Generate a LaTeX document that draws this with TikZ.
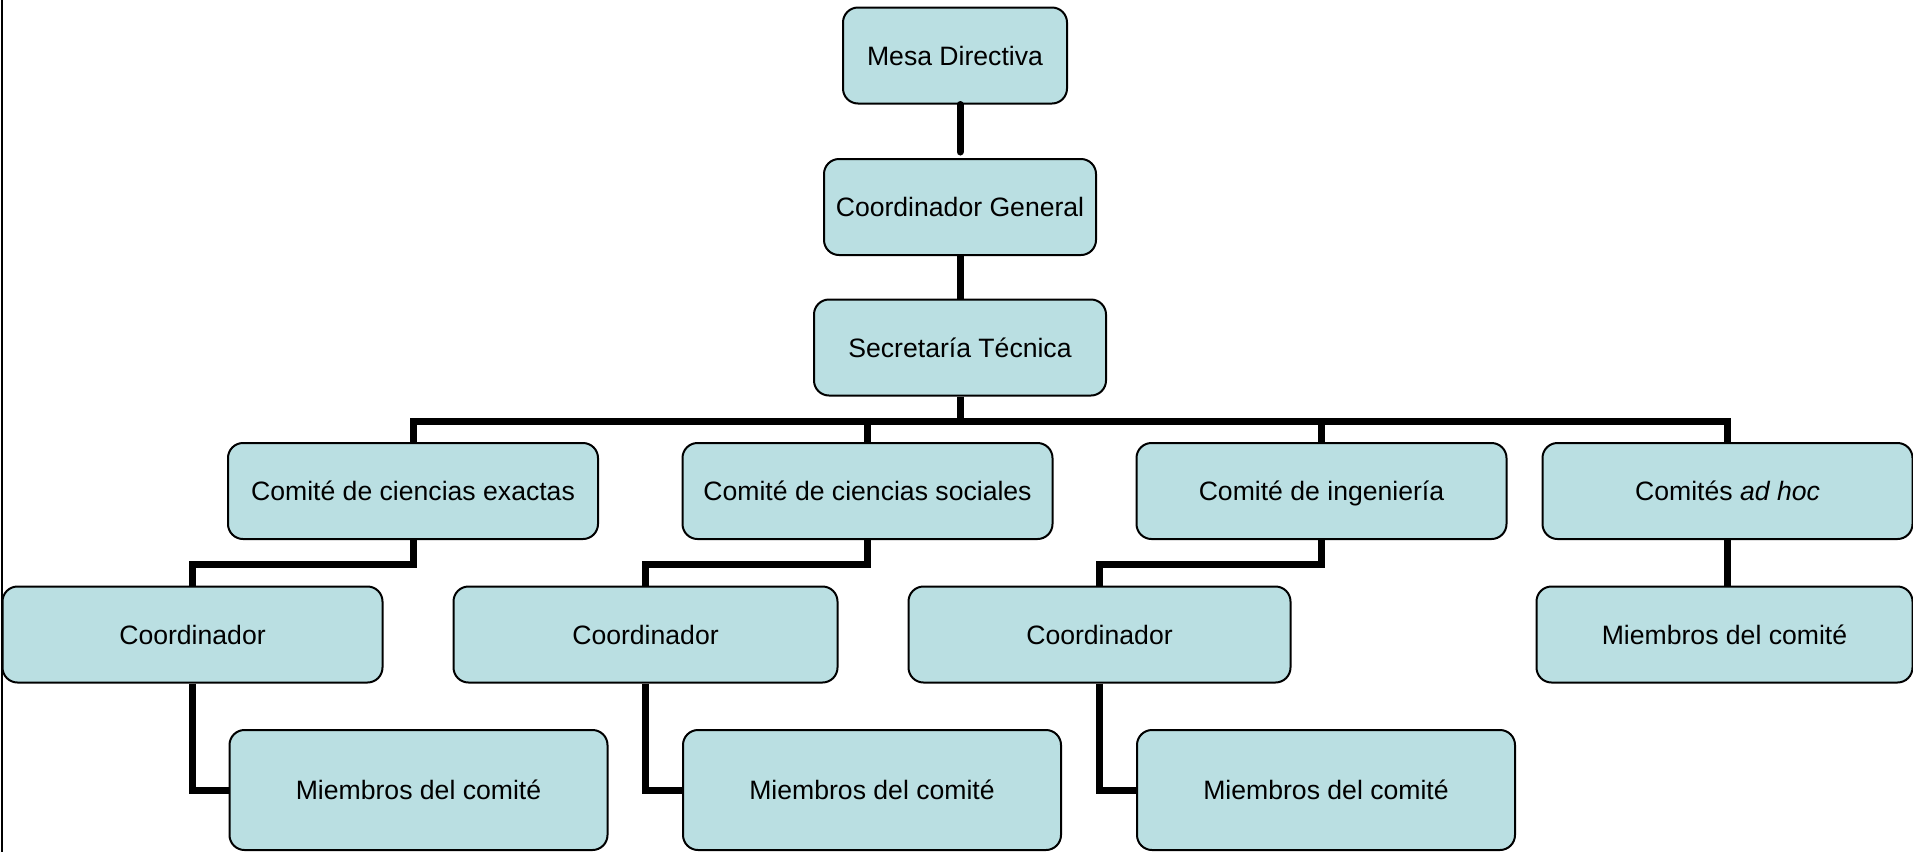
\documentclass[tikz,border=0pt]{standalone}
\usepackage{fontspec}
\setmainfont{Liberation Sans}
\usepackage{tikz}
\definecolor{celeste}{RGB}{186,223,226}
\tikzset{caja/.style={draw=black,fill=celeste,line width=1pt,rounded corners=7.5pt,
   inner sep=0pt,minimum height=48pt,text height=9.5pt,text depth=0pt,
   font=\fontsize{13.3}{16}\selectfont},
 linea/.style={line width=3.5pt}}

\begin{document}
\begin{tikzpicture}[x=0.5pt,y=-0.5pt]
\useasboundingbox (0,0) rectangle (1913,852);
\draw[line width=1.3pt] (2,0)--(2,852);
% direccion
\node[caja,minimum width=112pt] (mesa) at (955,55.5) {Mesa Directiva};
\node[caja,minimum width=136pt] (cgen) at (960,207) {Coordinador General};
\node[caja,minimum width=146pt] (secre) at (960,347.5) {Secretaría Técnica};
% comites
\node[caja,minimum width=185pt] (exac) at (413,491) {Comité de ciencias exactas};
\node[caja,minimum width=185pt] (soc) at (867.5,491) {Comité de ciencias sociales};
\node[caja,minimum width=185pt] (ing) at (1321.5,491) {Comité de ingeniería};
\node[caja,minimum width=185pt] (adhoc) at (1727.5,491) {Comités \textit{ad hoc}};
% coordinadores
\node[caja,minimum width=190pt] (coexac) at (192.5,634.5) {Coordinador};
\node[caja,minimum width=192pt] (cosoc) at (645.5,634.5) {Coordinador};
\node[caja,minimum width=191pt] (coing) at (1099.5,634.5) {Coordinador};
\node[caja,minimum width=188pt] (miadhoc) at (1724.5,634.5) {Miembros del comité};
% miembros
\node[caja,minimum width=189pt,minimum height=60pt] (miexac) at (418.5,790) {Miembros del comité};
\node[caja,minimum width=189pt,minimum height=60pt] (misoc) at (872,790) {Miembros del comité};
\node[caja,minimum width=189pt,minimum height=60pt] (miing) at (1326,790) {Miembros del comité};
% conectores
\coordinate (bus) at (960,421);
\draw[linea,line cap=round,shorten >=3pt] (mesa.south -| cgen) -- (cgen.north);
\draw[linea] (cgen.south) -- (secre.north);
\draw[linea] (secre.south) -- (bus);
\draw[linea] (exac.north) -- (exac.north |- bus) -- (adhoc.north |- bus) -- (adhoc.north);
\draw[linea] (soc.north) -- (soc.north |- bus);
\draw[linea] (ing.north) -- (ing.north |- bus);
\draw[linea] (exac.south) -- ++(0,24) -| (coexac.north);
\draw[linea] (soc.south) -- ++(0,24) -| (cosoc.north);
\draw[linea] (ing.south) -- ++(0,24) -| (coing.north);
\draw[linea] (adhoc.south) -- (adhoc.south |- miadhoc.north);
\draw[linea] (coexac.south) |- (miexac.west);
\draw[linea] (cosoc.south) |- (misoc.west);
\draw[linea] (coing.south) |- (miing.west);
\end{tikzpicture}
\end{document}
